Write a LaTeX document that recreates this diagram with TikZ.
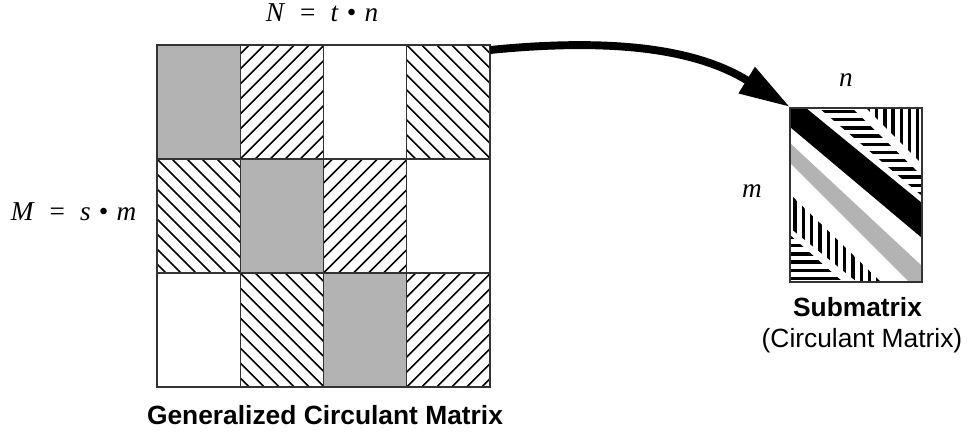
\documentclass[tikz,border=0pt]{standalone}
\usepackage{fontspec}
\setmainfont{Liberation Serif}
\setsansfont{Liberation Sans}
\usetikzlibrary{arrows.meta}

\definecolor{bandgray}{RGB}{179,179,179}

\begin{document}
\begin{tikzpicture}[x=0.02cm, y=-0.02cm,
    cellbox/.style={draw=black!80, line width=0.8pt},
    thinhatch/.style={line width=0.95pt},
    thickdash/.style={line width=1.9pt},
    boldcap/.style={font=\sffamily\bfseries\fontsize{15}{18}\selectfont, anchor=base, inner sep=0pt},
    plaincap/.style={font=\sffamily\fontsize{15}{18}\selectfont, anchor=base, inner sep=0pt},
    dimlab/.style={font=\fontsize{15.5}{18}\selectfont, anchor=base, inner sep=0pt}]
\useasboundingbox (0,0) rectangle (974,439);

% generalized circulant matrix, 3 x 4 blocks
\foreach \c/\r in {0/0,1/1,2/2}
  \fill[bandgray] (157+83.25*\c,45+114*\r) rectangle ++(83.25,114);
\foreach \c/\r in {1/0,2/1,3/2} {
  \begin{scope}
    \clip (157+83.25*\c,45+114*\r) rectangle ++(83.25,114);
    \foreach \k in {-8,...,6}
      \draw[thinhatch] (157+83.25*\c+15*\k,159+114*\r) -- ++(120,-120);
  \end{scope}
}
\foreach \c/\r in {3/0,0/1,1/2} {
  \begin{scope}
    \clip (157+83.25*\c,45+114*\r) rectangle ++(83.25,114);
    \foreach \k in {-8,...,6}
      \draw[thinhatch] (157+83.25*\c+15*\k,45+114*\r) -- ++(120,120);
  \end{scope}
}
\foreach \c in {0,...,3}
  \foreach \r in {0,1,2}
    \draw[cellbox] (157+83.25*\c,45+114*\r) rectangle ++(83.25,114);

% submatrix with its diagonal bands
\begin{scope}
  \clip (790,108) rectangle (922,282);
  \fill[black] (790,108) -- (806,108) -- (922,203) -- (922,238) -- (790,127) -- cycle;
  \fill[bandgray] (790,143) -- (922,266) -- (922,282) -- (909,282) -- (790,163) -- cycle;
  \begin{scope}
    \clip (819,108) -- (852,108) -- (922,176) -- (922,196) -- cycle;
    \foreach \y in {111.5,119.7,...,200}
      \draw[thickdash] (790,\y) -- (922,\y);
  \end{scope}
  \begin{scope}
    \clip (866,108) -- (922,108) -- (922,164) -- cycle;
    \foreach \x in {868.5,876.7,...,925}
      \draw[thickdash] (\x,108) -- (\x,282);
  \end{scope}
  \begin{scope}
    \clip (790,194) -- (881,282) -- (857,282) -- (790,228) -- cycle;
    \foreach \x in {795,803.3,...,885}
      \draw[thickdash] (\x,108) -- (\x,282);
  \end{scope}
  \begin{scope}
    \clip (790,235) -- (843,282) -- (790,282) -- cycle;
    \foreach \y in {237.5,245.7,...,285}
      \draw[thickdash] (790,\y) -- (922,\y);
  \end{scope}
\end{scope}
\draw[cellbox] (790,108) rectangle (922,282);

\coordinate (gcmcorner) at (490,50);
\coordinate (subcorner) at (790,107);
\draw[line width=4.5pt, -{Triangle[length=1.02cm, width=0.58cm]}]
  (gcmcorner) .. controls (610,38) and (695,48) .. (subcorner);

% labels
\node[dimlab] (Nlab) at (322,22) {\textit{N}\hspace{0.55em}=\hspace{0.55em}\textit{t}\hspace{0.3em}•\hspace{0.3em}\textit{n}};
\node[dimlab] (Mlab) at (73.5,220) {\textit{M}\hspace{0.55em}=\hspace{0.55em}\textit{s}\hspace{0.3em}•\hspace{0.3em}\textit{m}};
\node[dimlab] (nlab) at (846,87) {\textit{n}};
\node[dimlab] (mlab) at (752,197) {\textit{m}};
\node[boldcap] (gcmtitle) at (325,424) {Generalized Circulant Matrix};
\node[boldcap] (subtitle) at (857.5,316) {Submatrix};
\node[plaincap] (subnote) at (862,347) {(Circulant Matrix)};
\end{tikzpicture}
\end{document}
